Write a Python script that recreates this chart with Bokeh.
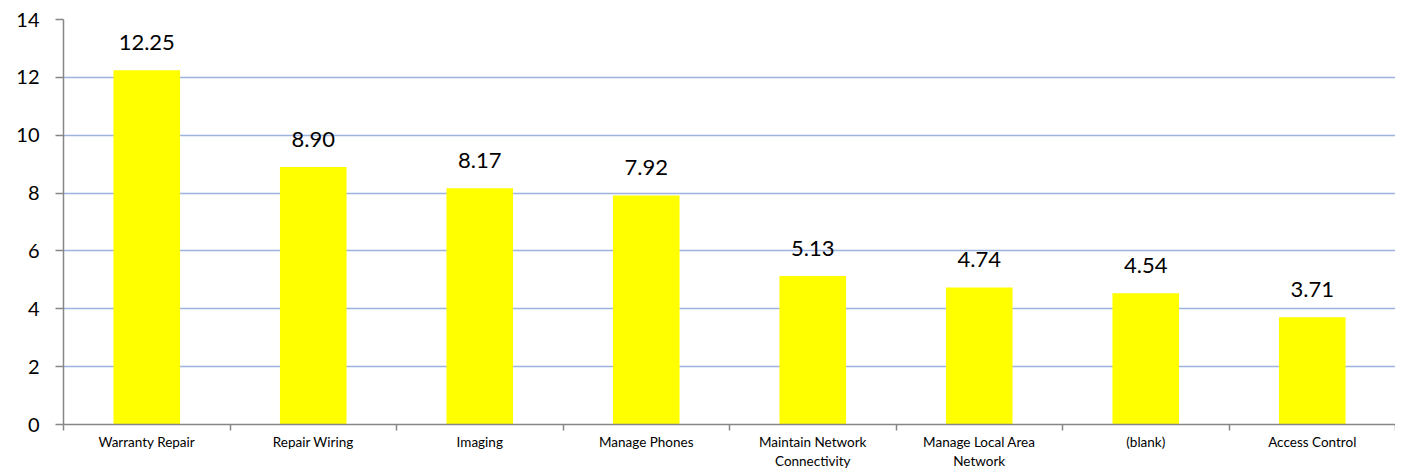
from bokeh.plotting import figure
from bokeh.models import ColumnDataSource, FixedTicker, Range1d, LabelSet
from bokeh.core.properties import value
from bokeh.embed import file_html
from bokeh.resources import INLINE

categories = ["Warranty Repair", "Repair Wiring", "Imaging", "Manage Phones",
              "Maintain Network\nConnectivity", "Manage Local Area\nNetwork",
              "(blank)", "Access Control"]
values = [12.25, 8.90, 8.17, 7.92, 5.13, 4.74, 4.54, 3.71]
y_ticks = [0, 2, 4, 6, 8, 10, 12, 14]

FONT = "Lato"
n = len(categories)
xs = [i + 0.5 for i in range(n)]
src = ColumnDataSource(dict(x=xs, top=values, label=["%.2f" % v for v in values]))

p = figure(frame_width=1332, frame_height=405, output_backend="svg", toolbar_location=None,
           x_range=Range1d(0, n), y_range=Range1d(0, 14),
           min_border_left=63, min_border_right=0, min_border_top=19, min_border_bottom=0)
p.outline_line_color = None
p.background_fill_color = "white"
p.border_fill_color = "white"

p.vbar(x="x", top="top", width=0.4, bottom=0, source=src, fill_color="#FFFF00", line_color=None)

labels = LabelSet(x="x", y="top", text="label", source=src, text_align="center",
                  text_baseline="alphabetic", y_offset=20, text_font=value(FONT),
                  text_font_size="22px", text_color="#000000")
p.add_layout(labels)

# y axis
p.yaxis.ticker = FixedTicker(ticks=y_ticks)
p.yaxis.axis_line_color = "#868686"
p.yaxis.axis_line_width = 1.5
p.yaxis.major_tick_line_color = "#868686"
p.yaxis.major_tick_line_width = 1.5
p.yaxis.major_tick_out = 8
p.yaxis.major_tick_in = 0
p.yaxis.minor_tick_line_color = None
p.yaxis.major_label_text_font = FONT
p.yaxis.major_label_text_font_size = "20px"
p.yaxis.major_label_text_color = "#000000"
p.yaxis.major_label_standoff = 16

# x axis
p.xaxis.ticker = FixedTicker(ticks=xs, minor_ticks=list(range(n + 1)))
p.xaxis.major_label_overrides = {x: c for x, c in zip(xs, categories)}
p.xaxis.axis_line_color = "#868686"
p.xaxis.axis_line_width = 1.5
p.xaxis.major_tick_line_color = None
p.xaxis.major_tick_out = 0
p.xaxis.major_tick_in = 0
p.xaxis.minor_tick_line_color = "#868686"
p.xaxis.minor_tick_line_width = 1.5
p.xaxis.minor_tick_out = 6
p.xaxis.minor_tick_in = 0
p.xaxis.major_label_text_font = FONT
p.xaxis.major_label_text_font_size = "13.5px"
p.xaxis.major_label_text_color = "#000000"
p.xaxis.major_label_standoff = 3

p.xgrid.grid_line_color = None
p.ygrid.ticker = FixedTicker(ticks=y_ticks[1:])
p.ygrid.grid_line_color = "#9DB4E0"
p.ygrid.grid_line_width = 1.5

open("out.html", "w").write(file_html(p, INLINE))
